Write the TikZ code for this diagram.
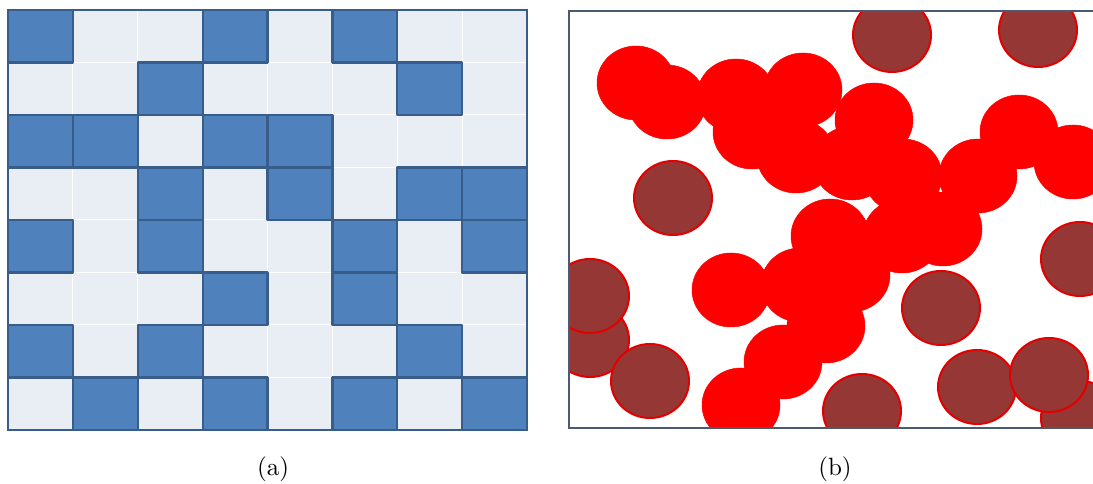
\documentclass[tikz,border=0pt]{standalone}
\usepackage{tikz}
\usetikzlibrary{positioning}
\definecolor{cellblue}{HTML}{4F81BD}
\definecolor{celledge}{HTML}{385D8A}
\definecolor{celllight}{HTML}{E9EDF4}
\definecolor{dotred}{HTML}{FF0000}
\definecolor{dotbrown}{HTML}{953735}
\definecolor{panelframe}{HTML}{4A5A70}
\tikzset{
  lightgrid/.style={draw=white,line width=0.4pt},
  fullcell/.style={fill=cellblue,draw=celledge,line width=0.9pt,line join=round},
  gridframe/.style={draw=celledge,line width=0.8pt},
  hotdot/.style={fill=dotred,draw=dotred,line width=0.2pt},
  colddot/.style={fill=dotbrown,draw=dotred!90!black,line width=0.8pt},
  boxframe/.style={draw=panelframe,line width=0.7pt},
  caption/.style={font=\normalsize,inner sep=0pt},
}
\begin{document}
\begin{tikzpicture}[x=0.4pt,y=-0.4pt]
  \useasboundingbox (0,0) rectangle (1093,484);
  % lattice (a)
  \begin{scope}[shift={(8,10)},x=25.95pt,y=-21pt]
    \fill[celllight] (0,0) rectangle (8,8);
    \foreach \k in {1,...,7} {
      \draw[lightgrid] (\k,0) -- (\k,8);
      \draw[lightgrid] (0,\k) -- (8,\k);
    }
    \foreach \c/\r in {0/0,3/0,5/0, 2/1,6/1, 0/2,1/2,3/2,4/2,
                       2/3,4/3,6/3,7/3, 0/4,2/4,5/4,7/4, 3/5,5/5,
                       0/6,2/6,6/6, 1/7,3/7,5/7,7/7}
      \draw[fullcell] (\c,\r) rectangle ++(1,1);
    \draw[gridframe] (0,0) rectangle (8,8);
  \end{scope}
  % continuum (b)
  \begin{scope}
    \clip (569,11) rectangle (1093,428);
    % isolated discs
    \foreach \px/\py in {892/35,1038/30,673/198,1080/259,590/340,590/296,
                         650/381,941/308,862/411,977/387,1080/418,1049/375}
      \path[colddot] (\px,\py) ellipse [x radius=15.6pt,y radius=14.8pt];
    % spanning cluster
    \foreach \px/\py in {636/83,667/102,736/96,803/90,752/132,796/156,
                         874/120,852/163,903/176,978/176,1019/132,1073/162,
                         830/236,902/236,943/229,731/290,800/285,851/275,
                         826/326,783/362,741/405}
      \path[hotdot] (\px,\py) ellipse [x radius=15.6pt,y radius=14.8pt];
  \end{scope}
  \draw[boxframe] (1093,11) -- (569,11) -- (569,428) -- (1093,428);
  % captions
  \node[caption] (capa) at (273,469) {(a)};
  \node[caption] (capb) at (835,469) {(b)};
\end{tikzpicture}
\end{document}
